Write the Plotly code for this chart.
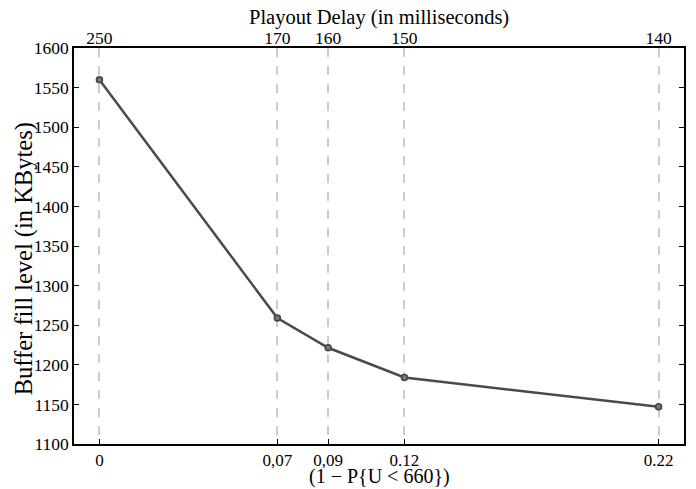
import plotly.graph_objects as go

x_vals = [0, 0.07, 0.09, 0.12, 0.22]
buffer_kb = [1560, 1259, 1221.5, 1184, 1147]
bottom_labels = ["0", "0,07", "0,09", "0.12", "0.22"]
delay_labels = ["250", "170", "160", "150", "140"]
y_ticks = list(range(1100, 1601, 50))

font_family = "Liberation Serif"
L, R, T, B = 74, 12, 47.5, 45
W, H = 696, 489
pw, ph = W - L - R, H - T - B

fig = go.Figure()
fig.add_trace(go.Scatter(
    x=x_vals, y=buffer_kb, mode="lines+markers",
    line=dict(color="#4a4a4a", width=2.5),
    marker=dict(size=6, color="#777777", line=dict(color="#444444", width=1.5)),
    showlegend=False, hoverinfo="skip"))
fig.add_trace(go.Scatter(
    x=x_vals, y=buffer_kb, xaxis="x2", mode="markers",
    marker=dict(size=1, opacity=0), showlegend=False, hoverinfo="skip"))

def px_x(p):
    return (p - L) / pw

def px_y(p):
    return (H - B - p) / ph

fig.update_layout(
    width=W, height=H,
    margin=dict(l=L, r=R, t=T, b=B),
    plot_bgcolor="white", paper_bgcolor="white",
    font=dict(family=font_family, color="black", size=17.5),
    xaxis=dict(
        range=[-0.01, 0.23], tickvals=x_vals, ticktext=bottom_labels,
        showgrid=True, gridcolor="#cccccc", griddash="dash", gridwidth=1.5,
        zeroline=False, showline=True, linecolor="black", linewidth=1.5,
        mirror=True, ticks="inside", ticklen=5, tickcolor="black",
        tickfont=dict(size=17, family=font_family), automargin=False),
    xaxis2=dict(
        range=[-0.01, 0.23], overlaying="x", side="top", anchor="y",
        tickvals=x_vals, ticktext=delay_labels, showgrid=False, zeroline=False,
        showline=False, ticks="", automargin=False,
        tickfont=dict(size=17.5, family=font_family)),
    yaxis=dict(
        range=[1100, 1600], tickvals=y_ticks, showgrid=False, zeroline=False,
        showline=True, linecolor="black", linewidth=1.5, mirror="ticks",
        ticks="inside", ticklen=5, tickcolor="black", automargin=False,
        tickfont=dict(size=17.5, family=font_family)),
    annotations=[
        dict(text="Playout Delay (in milliseconds)", xref="paper", yref="paper",
             x=0.5, y=px_y(17), showarrow=False, font=dict(size=20.5, family=font_family),
             xanchor="center", yanchor="middle"),
        dict(text="(1 − P{U < 660})", xref="paper", yref="paper",
             x=0.5, y=px_y(489), showarrow=False, font=dict(size=20, family=font_family),
             xanchor="center", yanchor="bottom", borderpad=0),
        dict(text="Buffer fill level (in KBytes)", xref="paper", yref="paper",
             x=px_x(24), y=px_y(259), showarrow=False, textangle=-90,
             font=dict(size=24.5, family=font_family),
             xanchor="center", yanchor="middle"),
    ],
)

fig.write_html("out.html", config={"displayModeBar": False},
               post_script="document.body.style.margin='0';document.body.style.overflow='hidden';")
